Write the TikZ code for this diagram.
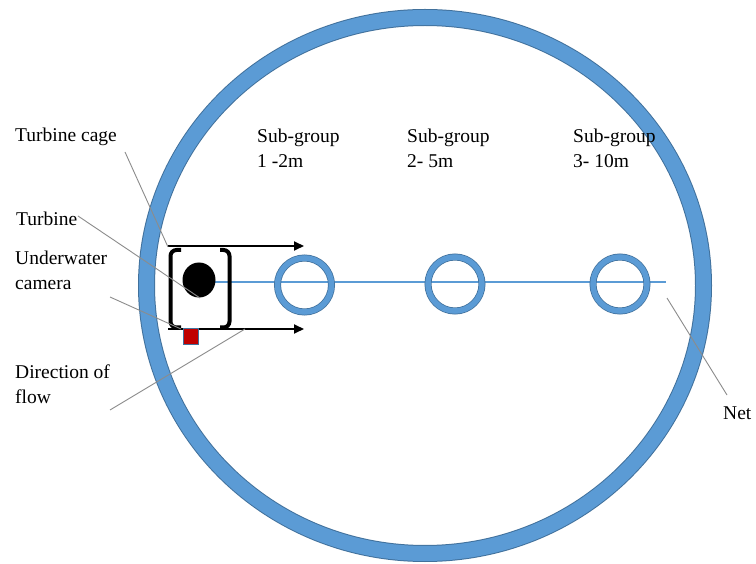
\documentclass[tikz,border=0pt]{standalone}
\usepackage{fontspec}
\setmainfont{Liberation Serif}
\usetikzlibrary{arrows.meta,shapes.geometric}
\definecolor{ringfill}{HTML}{5B9BD5}
\definecolor{ringedge}{HTML}{41719C}
\definecolor{leader}{HTML}{8C8C8C}
\definecolor{camred}{HTML}{C00000}
\begin{document}
\begin{tikzpicture}[x=1pt,y=-1pt,
  lbl/.style={anchor=base west,inner sep=0pt,font=\fontsize{19.5}{25}\selectfont,align=left},
  leaderline/.style={draw=leader,line width=0.9pt},
  flowarrow/.style={draw=black,line width=2pt,-{Triangle[length=10pt,width=9pt]}},
  cagebracket/.style={draw=black,line width=4pt,rounded corners=6pt},
  netline/.style={color=ringfill,line width=1.3pt}]
\useasboundingbox (0,0) rectangle (756,564);
\fill[white] (0,0) rectangle (756,564);
% net enclosure
\draw[ringedge,line width=17pt] (425,285.5) ellipse [x radius=278.5,y radius=268];
\draw[ringfill,line width=15pt] (425,285.5) ellipse [x radius=278.5,y radius=268];
% net line
\coordinate (netL) at (215,282);
\coordinate (netR) at (666,282);
\draw[netline] (netL) -- (netR);
% sub-group rings
\foreach \n/\cx/\cy in {1/304.5/285,2/455/284,3/620/284}{
  \draw[ringedge,line width=7pt] (\cx,\cy) circle [radius=27];
  \draw[ringfill,line width=5.5pt] (\cx,\cy) circle [radius=27];
  \coordinate (sg\n) at (\cx,\cy);
}
% turbine
\node[draw=none,fill=black,ellipse,minimum width=33pt,minimum height=35pt,inner sep=0pt] (turbine) at (199,280) {};
% cage
\draw[cagebracket] (181,250) -- (170.5,250) -- (170.5,327.5) -- (181,327.5);
\draw[cagebracket] (220,250) -- (229.5,250) -- (229.5,327.5) -- (220,327.5);
% flow arrows
\coordinate (fa1) at (168,246);
\coordinate (fa2) at (304,246);
\coordinate (fb1) at (168,329);
\coordinate (fb2) at (304,329);
\draw[flowarrow] (fa1) -- (fa2);
\draw[flowarrow] (fb1) -- (fb2);
% camera
\node[draw=ringedge,fill=camred,line width=1.2pt,minimum width=15pt,minimum height=16pt,inner sep=0pt] (camera) at (191,336.5) {};
% labels
\node[lbl] (tcage) at (15,142) {Turbine cage};
\node[lbl] (tturb) at (16,226) {Turbine};
\node[lbl] (tcam) at (15,290) {Underwater\\camera};
\node[lbl] (tflow) at (15,403) {Direction of\\flow};
\node[lbl] (tnet) at (723,420) {Net};
\node[lbl] (sgA) at (257,168) {Sub-group\\1 -2m};
\node[lbl] (sgB) at (407,168) {Sub-group\\2- 5m};
\node[lbl] (sgC) at (573,168) {Sub-group\\3- 10m};
% leader lines
\coordinate (l1a) at (125,152); \coordinate (l1b) at (168,247);
\coordinate (l2a) at (78,216);  \coordinate (l2b) at (200,298);
\coordinate (l3a) at (110,297); \coordinate (l3b) at (181,329);
\coordinate (l4a) at (110,410); \coordinate (l4b) at (245,329);
\coordinate (l5a) at (667,298); \coordinate (l5b) at (727,395);
\draw[leaderline] (l1a) -- (l1b);
\draw[leaderline] (l2a) -- (l2b);
\draw[leaderline] (l3a) -- (l3b);
\draw[leaderline] (l4a) -- (l4b);
\draw[leaderline] (l5a) -- (l5b);
\end{tikzpicture}
\end{document}
